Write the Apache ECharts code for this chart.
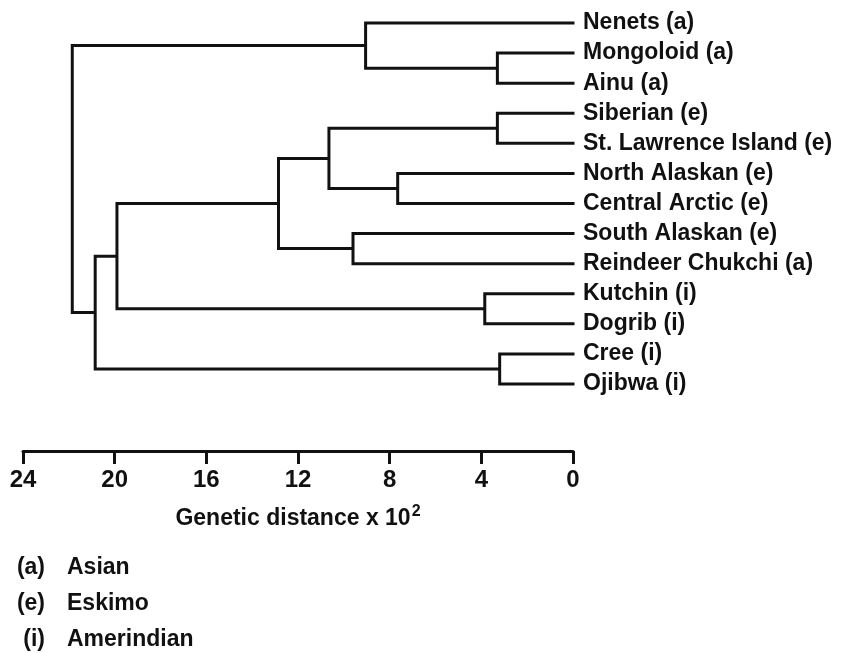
<!DOCTYPE html>
<html>
<head>
<meta charset="utf-8">
<script src="https://cdn.jsdelivr.net/npm/echarts@6/dist/echarts.min.js"></script>
<style>html,body{margin:0;padding:0;background:#fff}#c{width:842px;height:653px}</style>
</head>
<body>
<div id="c"></div>
<script>
// Leaves (top to bottom)
var leaves = ['Nenets (a)', 'Mongoloid (a)', 'Ainu (a)', 'Siberian (e)', 'St. Lawrence Island (e)',
  'North Alaskan (e)', 'Central Arctic (e)', 'South Alaskan (e)', 'Reindeer Chukchi (a)',
  'Kutchin (i)', 'Dogrib (i)', 'Cree (i)', 'Ojibwa (i)'];
// Merges: node ids 0..12 are leaves, 13.. are merges in order
var mergeA = [1, 0, 3, 5, 15, 7, 17, 9, 19, 11, 21, 14];
var mergeB = [2, 13, 4, 6, 16, 8, 18, 10, 20, 12, 22, 23];
var mergeHeight = [3.3, 9.05, 3.3, 7.65, 10.65, 9.6, 12.85, 3.85, 19.9, 3.2, 20.85, 21.85];
// Axis ticks
var axisMin = 0, axisMax = 24, axisStep = 4;
var axisTitle = 'Genetic distance x 10';
var legendCodes = ['(a)', '(e)', '(i)'];
var legendNames = ['Asian', 'Eskimo', 'Amerindian'];

var nodeH = [], nodeY = [];
leaves.forEach(function (l, i) { nodeH.push(0); nodeY.push(i); });
var treeData = [];
for (var k = 0; k < mergeA.length; k++) {
  var a = mergeA[k], b = mergeB[k], h = mergeHeight[k];
  treeData.push([nodeH[a], nodeY[a]], [h, nodeY[a]], [h, nodeY[b]], [nodeH[b], nodeY[b]], ['-', '-']);
  nodeH.push(h); nodeY.push((nodeY[a] + nodeY[b]) / 2);
}

var FONT = 'Liberation Sans, Arial, sans-serif';
var INK = '#111';
var chart = echarts.init(document.getElementById('c'), null, {renderer: 'canvas'});
var gl = 23, gr = 842 - 573;
chart.setOption({
  animation: false,
  backgroundColor: '#fff',
  grid: [
    {left: gl, right: gr, top: 8, height: 391},
    {left: gl, right: gr, top: 420, height: 31}
  ],
  xAxis: [
    {gridIndex: 0, type: 'value', min: axisMin, max: axisMax, inverse: true, show: false},
    {gridIndex: 1, type: 'value', min: axisMin, max: axisMax, interval: axisStep, inverse: true,
      axisLine: {show: true, onZero: false, lineStyle: {color: INK, width: 3}},
      axisTick: {show: true, length: 13, lineStyle: {color: INK, width: 3}},
      splitLine: {show: false},
      axisLabel: {margin: 17, color: INK, fontFamily: FONT, fontSize: 24, fontWeight: 'bold'},
      name: axisTitle + '{sup|2}', nameLocation: 'middle', nameGap: 53,
      nameTextStyle: {color: INK, fontFamily: FONT, fontSize: 23, fontWeight: 'bold',
        rich: {sup: {fontFamily: FONT, fontSize: 16, fontWeight: 'bold', color: INK, verticalAlign: 'bottom', padding: [0, 0, 14, 1]}}}
    }
  ],
  yAxis: [
    {gridIndex: 0, type: 'value', min: -0.5, max: leaves.length - 0.5, inverse: true, show: false},
    {gridIndex: 0, type: 'category', data: leaves, inverse: true, position: 'right', boundaryGap: true,
      axisLine: {show: false}, axisTick: {show: false}, splitLine: {show: false},
      axisLabel: {margin: 10, color: INK, fontFamily: FONT, fontSize: 23, fontWeight: 'bold', interval: 0}},
    {gridIndex: 1, type: 'value', show: false, min: 0, max: 1}
  ],
  series: [
    {type: 'line', xAxisIndex: 0, yAxisIndex: 0, data: treeData, showSymbol: false, symbol: 'none',
      connectNulls: false, lineStyle: {color: INK, width: 3, cap: 'square', join: 'miter'}, silent: true},
    {type: 'line', xAxisIndex: 1, yAxisIndex: 2, data: [], showSymbol: false}
  ],
  graphic: legendCodes.map(function (c, i) {
    return {type: 'group', children: [
      {type: 'text', x: 45, y: 568 + i * 36, style: {text: c, align: 'right', verticalAlign: 'middle', fill: INK, font: 'bold 23px ' + FONT}},
      {type: 'text', x: 67, y: 568 + i * 36, style: {text: legendNames[i], align: 'left', verticalAlign: 'middle', fill: INK, font: 'bold 23px ' + FONT}}
    ]};
  })
});
</script>
</body>
</html>
